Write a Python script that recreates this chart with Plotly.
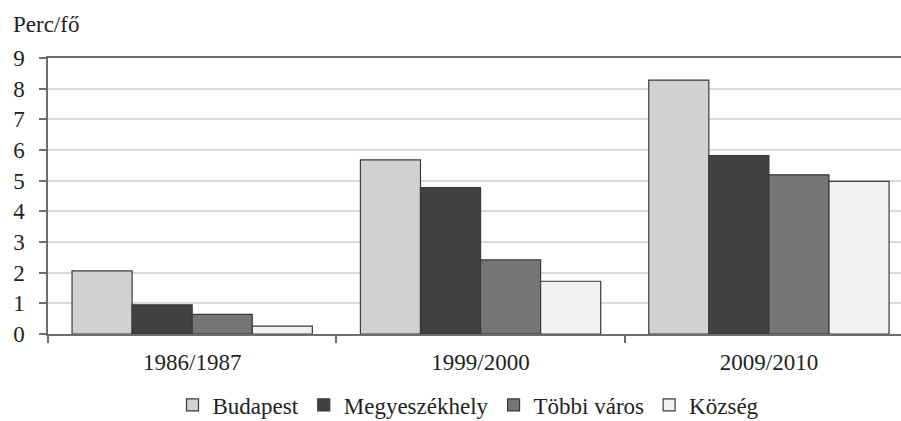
import plotly.graph_objects as go

categories = ["1986/1987", "1999/2000", "2009/2010"]
series_names = ["Budapest", "Megyeszékhely", "Többi város", "Község"]
budapest = [2.06, 5.68, 8.28]
megyeszekhely = [0.95, 4.77, 5.82]
tobbi_varos = [0.64, 2.42, 5.19]
kozseg = [0.26, 1.72, 4.98]
y_ticks = list(range(0, 10))
y_title = "Perc/fő"

colors = ["#d1d1d3", "#414042", "#767475", "#f1f2f2"]
values = [budapest, megyeszekhely, tobbi_varos, kozseg]

FONT = "Liberation Serif"
TXT = "#231f20"
FS = 23

fig = go.Figure()
for name, vals, col in zip(series_names, values, colors):
    fig.add_trace(go.Bar(
        x=categories, y=vals, name=name,
        marker=dict(color=col, line=dict(color="#3a3a3a", width=1.2)),
    ))

fig.update_layout(
    width=901, height=421,
    margin=dict(l=48, r=0, t=58, b=87, pad=0),
    paper_bgcolor="white", plot_bgcolor="white",
    barmode="group", bargap=1/6, bargroupgap=0,
    font=dict(family=FONT, size=FS, color=TXT),
    showlegend=True,
    legend=dict(
        orientation="h", xref="container", x=0.52, xanchor="center",
        yref="container", y=0.038, yanchor="middle",
        font=dict(family=FONT, size=FS, color=TXT),
        itemwidth=30, tracegroupgap=0, bgcolor="rgba(0,0,0,0)",
    ),
    annotations=[dict(
        text=y_title, xref="paper", yref="paper", x=-48/853, y=1 + 33/276,
        xanchor="left", yanchor="middle", showarrow=False,
        font=dict(family=FONT, size=FS, color=TXT), xshift=11,
    )],
)

fig.update_xaxes(
    type="category", range=[-0.5, 2.458],
    tickson="boundaries", ticks="outside", ticklen=7, tickwidth=1.5, tickcolor="#6d6d6d",
    showline=True, linecolor="#6d6d6d", linewidth=2, mirror=True,
    showgrid=False, tickfont=dict(family=FONT, size=FS, color=TXT),
    ticklabelstandoff=6,
)
fig.update_yaxes(
    range=[0, 9], tickvals=y_ticks, ticks="outside", ticklen=7, tickwidth=1.5,
    tickcolor="#6d6d6d", showline=True, linecolor="#6d6d6d", linewidth=1.5,
    showgrid=True, gridcolor="#d9d9d9", gridwidth=1.5, zeroline=False,
    tickfont=dict(family=FONT, size=FS, color=TXT), ticklabelstandoff=10,
)

fig.write_html(
    "out.html",
    config={"displayModeBar": False},
    post_script="document.body.style.margin='0';document.body.style.padding='0';",
)
